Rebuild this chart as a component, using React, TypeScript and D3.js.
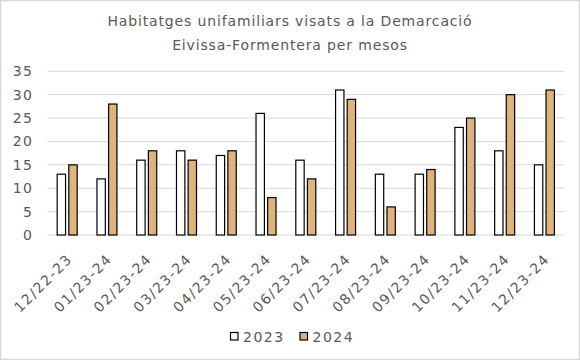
import React from "react";
import * as d3 from "d3";

const categories = ["12/22-23", "01/23-24", "02/23-24", "03/23-24", "04/23-24", "05/23-24", "06/23-24", "07/23-24", "08/23-24", "09/23-24", "10/23-24", "11/23-24", "12/23-24"];
const seriesNames = ["2023", "2024"];
const values2023 = [13, 12, 16, 18, 17, 26, 16, 31, 13, 13, 23, 18, 15];
const values2024 = [15, 28, 18, 16, 18, 8, 12, 29, 6, 14, 25, 30, 31];
const yTicks = [0, 5, 10, 15, 20, 25, 30, 35];
const titleLines = ["Habitatges unifamiliars visats a la Demarcació", "Eivissa-Formentera per mesos"];

const W = 580, H = 360;
const colors = ["#ffffff", "#DFB47C"];
const textColor = "#595959";
const font = "'DejaVu Sans', sans-serif";

export default function App() {
  const x = d3.scaleBand<string>().domain(categories).range([47.3, 564.3]).padding(0);
  const y = d3.scaleLinear().domain([0, 35]).range([235, 71.3]);
  const series = [values2023, values2024];
  return (
    <svg width={W} height={H} style={{ position: "absolute", left: 0, top: 0 }} fontFamily={font}>
      <rect x={0.5} y={0.5} width={W - 1} height={H - 1} fill="#fff" stroke="#d9d9d9" strokeWidth={1.5} />
      {titleLines.map((t, i) => (
        <text key={i} x={290} y={26 + i * 24} textAnchor="middle" fontSize={14} letterSpacing={0.85} fill={textColor}>{t}</text>
      ))}
      {yTicks.map((t) => (
        <g key={t}>
          <line x1={47.3} x2={564.3} y1={y(t)} y2={y(t)} stroke="#d9d9d9" strokeWidth={1} />
          <text x={33.5} y={y(t)} dy="0.36em" textAnchor="end" fontSize={14} letterSpacing={1.5} fill={textColor}>{t}</text>
        </g>
      ))}
      {categories.map((c, i) => {
        const cx = (x(c) as number) + x.bandwidth() / 2;
        const sub = d3.scaleBand<string>().domain(seriesNames).range([cx - 10, cx + 10]).paddingInner(0.28);
        return (
          <g key={c}>
            {seriesNames.map((s, j) => {
              const v = series[j][i];
              return (
                <rect key={s} x={sub(s)} y={y(v)} width={sub.bandwidth()} height={y(0) - y(v)}
                  fill={colors[j]} stroke="#000" strokeWidth={1.2} />
              );
            })}
            <text transform={`translate(${cx + 6},${260}) rotate(-45)`} textAnchor="end" fontSize={14} letterSpacing={1.5} fill={textColor}>{c}</text>
          </g>
        );
      })}
      {seriesNames.map((s, j) => (
        <g key={s} transform={`translate(${230 + j * 69.5},332)`}>
          <rect x={0.5} y={0.5} width={7.5} height={7.5} fill={colors[j]} stroke="#000" strokeWidth={1.2} />
          <text x={13} y={4.5} dy="0.36em" fontSize={14} letterSpacing={1.5} fill={textColor}>{s}</text>
        </g>
      ))}
    </svg>
  );
}
